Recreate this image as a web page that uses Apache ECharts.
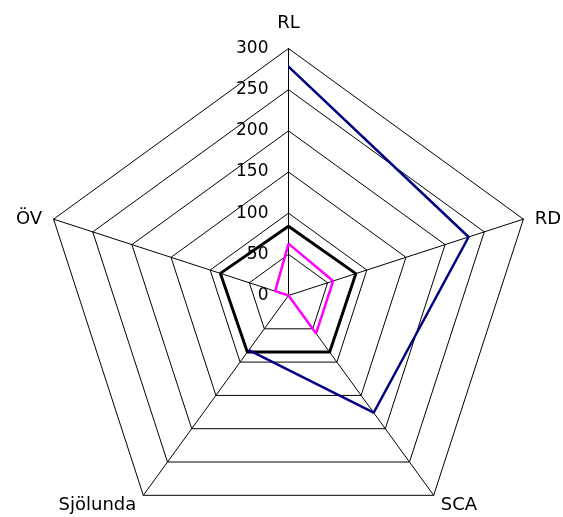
<!DOCTYPE html>
<html>
<head>
<meta charset="utf-8">
<script src="https://cdn.jsdelivr.net/npm/echarts@6/dist/echarts.min.js"></script>
<style>
  html, body { margin: 0; padding: 0; background: #fff; }
  #chart { width: 563px; height: 517px; }
</style>
</head>
<body>
<div id="chart"></div>
<script>
// Axes, listed clockwise from the top
const categories = ['RL', 'RD', 'SCA', 'Sjölunda', 'ÖV'];
// Scale ticks along the RL axis
const tickLabels = [0, 50, 100, 150, 200, 250, 300];

// Series values per axis (null = no value)
const navyValues = [278, 230, 176, 82, null];
const blackValues = [84, 86, 85, 85, 87];
const magentaValues = [63, 57, 57, 0, 17];

const CENTER = [288.5, 295.5];
const RADIUS = 247;
const FONT = 'DejaVu Sans, Verdana, sans-serif';

const axisMax = tickLabels[tickLabels.length - 1];
const axisStep = tickLabels[1] - tickLabels[0];
const stepAngle = 360 / categories.length;

// Polar points [radius, angle]; the first point is repeated to close the loop
function toPolar(values) {
  const pts = values.map((v, i) => [v === null ? '-' : v, i * stepAngle]);
  const first = values[0];
  pts.push([first === null ? '-' : first, 360]);
  return pts;
}

// Radar lays indicators out counter-clockwise, so feed them reversed
const radarIndicators = [categories[0]].concat(categories.slice(1).reverse())
  .map(name => ({ name: name, min: 0, max: axisMax }));

// Small per-position nudges for the axis names
function nameStyleKey(name) {
  const i = categories.indexOf(name);
  if (i === 0) return 'top';
  if (i === 1 || i === 4) return 'side';
  return 'bottom';
}

const chart = echarts.init(document.getElementById('chart'), null, { renderer: 'canvas' });

chart.setOption({
  backgroundColor: '#ffffff',
  animation: false,
  radar: {
    center: CENTER,
    radius: RADIUS,
    startAngle: 90,
    shape: 'polygon',
    splitNumber: tickLabels.length - 1,
    indicator: radarIndicators,
    axisName: {
      color: '#000', fontFamily: FONT, fontSize: 18,
      formatter: name => '{' + nameStyleKey(name) + '|' + name + '}',
      rich: {
        top: { color: '#000', fontFamily: FONT, fontSize: 18, padding: [0, 0, 4, 0] },
        side: { color: '#000', fontFamily: FONT, fontSize: 18, padding: [7, 0, 0, 0] },
        bottom: { color: '#000', fontFamily: FONT, fontSize: 18, padding: [1, 0, 0, 0] }
      }
    },
    nameGap: 12,
    axisLine: { lineStyle: { color: '#000', width: 1 } },
    splitLine: { lineStyle: { color: '#000', width: 1 } },
    splitArea: { show: false },
    axisTick: { show: false },
    axisLabel: { show: false }
  },
  polar: { center: CENTER, radius: RADIUS },
  angleAxis: {
    type: 'value', min: 0, max: 360, startAngle: 90, clockwise: true,
    axisLine: { show: false }, axisTick: { show: false },
    axisLabel: { show: false }, splitLine: { show: false }
  },
  radiusAxis: {
    type: 'value', min: 0, max: axisMax, interval: axisStep,
    axisLine: { show: false }, axisTick: { show: false }, splitLine: { show: false },
    axisLabel: { show: true, color: '#000', fontFamily: FONT, fontSize: 17, margin: 20 }
  },
  series: [
    {
      name: 'black', type: 'line', coordinateSystem: 'polar',
      data: toPolar(blackValues), symbol: 'none',
      lineStyle: { color: '#000000', width: 3 }
    },
    {
      name: 'navy', type: 'line', coordinateSystem: 'polar',
      data: toPolar(navyValues), symbol: 'none', connectNulls: false,
      lineStyle: { color: '#000080', width: 2.5 }
    },
    {
      name: 'magenta', type: 'line', coordinateSystem: 'polar',
      data: toPolar(magentaValues), symbol: 'none',
      lineStyle: { color: '#ff00ff', width: 2.5 }
    }
  ]
});
</script>
</body>
</html>
